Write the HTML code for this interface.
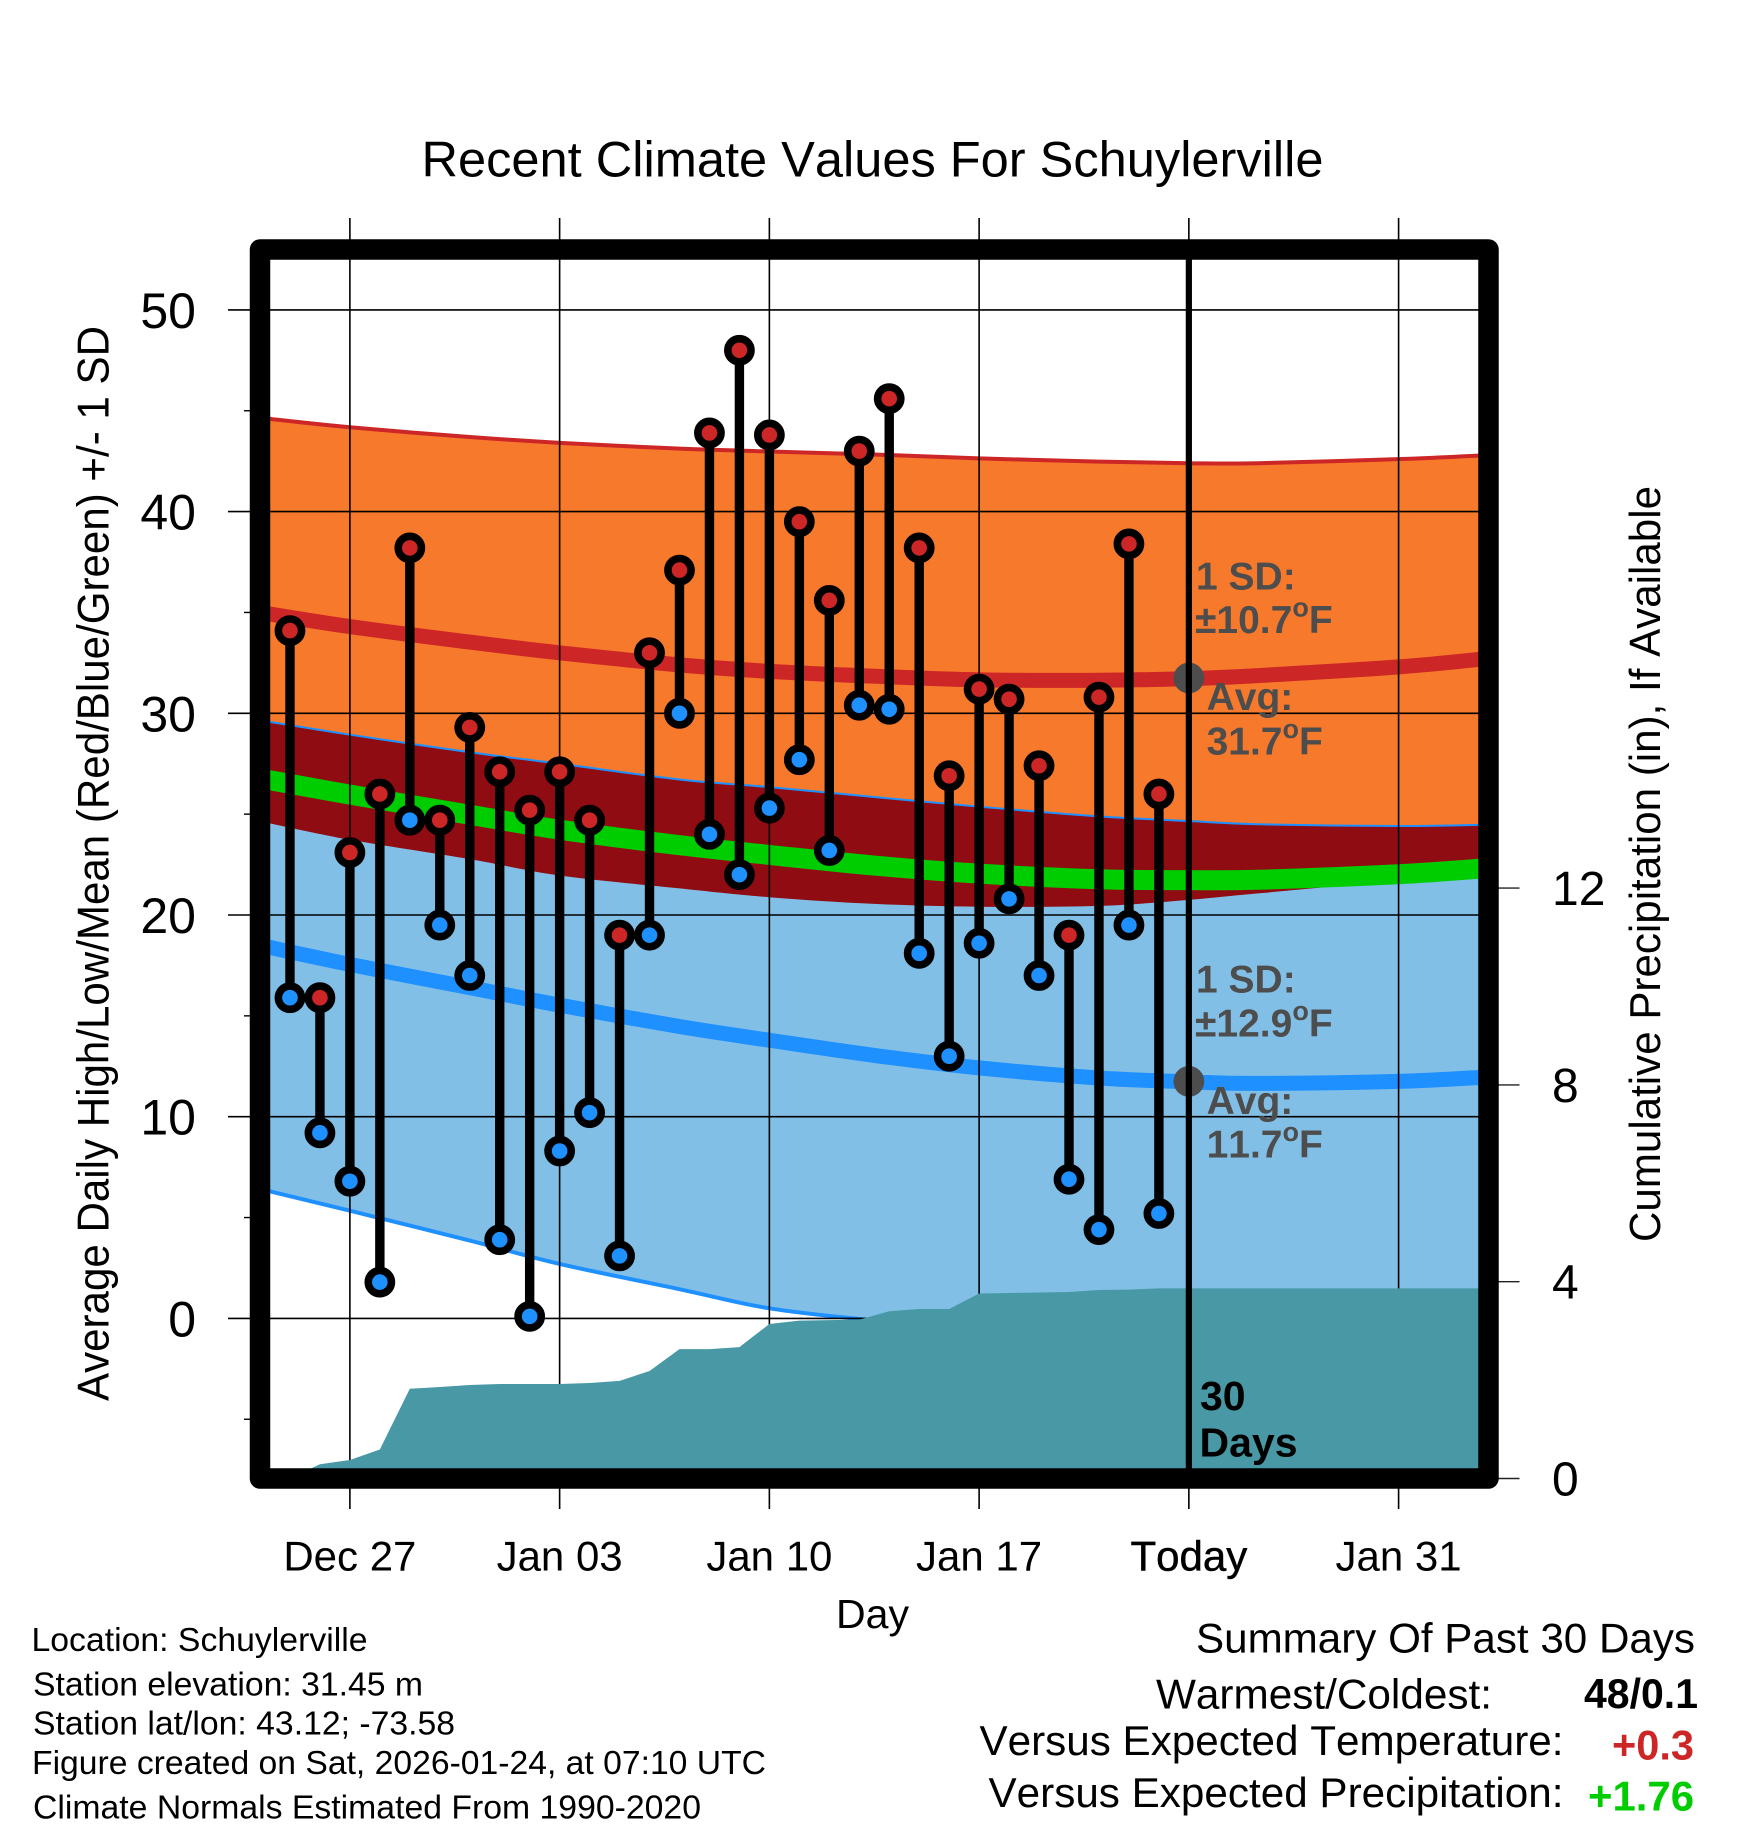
<!DOCTYPE html>
<html lang="en">
<head>
<meta charset="utf-8">
<title>Recent Climate Values For Schuylerville</title>
<style>
html,body{margin:0;padding:0;background:#fff;}
svg{display:block;}
text{font-family:"Liberation Sans",Arial,sans-serif;fill:#000;font-kerning:none;}
.b{font-weight:bold;}
.g{font-weight:bold;fill:#4d4d4d;font-size:39px;}
</style>
</head>
<body>
<svg id="chart" xmlns="http://www.w3.org/2000/svg" width="1748" height="1828" viewBox="0 0 1748 1828">
<defs><clipPath id="plot-clip"><rect x="260" y="249.5" width="1228.5" height="1229"/></clipPath></defs>
<rect x="0" y="0" width="1748" height="1828" fill="#fff"/>
<text x="421.5" y="176.5" font-size="50" textLength="902" lengthAdjust="spacingAndGlyphs">Recent Climate Values For Schuylerville</text>
<g id="bands" clip-path="url(#plot-clip)"></g>
<g id="grid"></g>
<g id="precip" clip-path="url(#plot-clip)"></g>
<g id="today" clip-path="url(#plot-clip)"></g>
<g id="marks"></g>
<rect x="260" y="249.5" width="1228.5" height="1229" fill="none" stroke="#000" stroke-width="20.5" stroke-linejoin="round"/>
<g id="labels"></g>

<text transform="translate(108.5,1401) rotate(-90)" font-size="44.5" textLength="1075" lengthAdjust="spacingAndGlyphs">Average Daily High/Low/Mean (Red/Blue/Green) +/- 1 SD</text>
<text transform="translate(1660,1242) rotate(-90)" font-size="44" textLength="756" lengthAdjust="spacingAndGlyphs">Cumulative Precipitation (in), If Available</text>
<text x="836" y="1628" font-size="41" textLength="73" lengthAdjust="spacingAndGlyphs">Day</text>

<text class="g" x="1196" y="589.3" font-size="38">1 SD:</text>
<text class="g" x="1195" y="633">±10.7<tspan font-size="27" dy="-16.5">o</tspan><tspan dy="16.5">F</tspan></text>
<text class="g" x="1206.6" y="709.8">Avg:</text>
<text class="g" x="1206.6" y="754.5">31.7<tspan font-size="27" dy="-16.5">o</tspan><tspan dy="16.5">F</tspan></text>
<text class="g" x="1196" y="992.4" font-size="38">1 SD:</text>
<text class="g" x="1195" y="1036.6">±12.9<tspan font-size="27" dy="-16.5">o</tspan><tspan dy="16.5">F</tspan></text>
<text class="g" x="1206.6" y="1113.8">Avg:</text>
<text class="g" x="1206.6" y="1157.6">11.7<tspan font-size="27" dy="-16.5">o</tspan><tspan dy="16.5">F</tspan></text>

<text class="b" x="1200" y="1410" font-size="41">30</text>
<text class="b" x="1199.5" y="1456.4" font-size="41">Days</text>

<text x="31.5" y="1651" font-size="33.5" textLength="336" lengthAdjust="spacingAndGlyphs">Location: Schuylerville</text>
<text x="33" y="1695.5" font-size="33.5" textLength="390" lengthAdjust="spacingAndGlyphs">Station elevation: 31.45 m</text>
<text x="33" y="1734.7" font-size="33.5" textLength="422" lengthAdjust="spacingAndGlyphs">Station lat/lon: 43.12; -73.58</text>
<text x="32" y="1774.2" font-size="33.5" textLength="734" lengthAdjust="spacingAndGlyphs">Figure created on Sat, 2026-01-24, at 07:10 UTC</text>
<text x="33" y="1818.3" font-size="33.5" textLength="668" lengthAdjust="spacingAndGlyphs">Climate Normals Estimated From 1990-2020</text>

<text x="1196" y="1652.5" font-size="42" textLength="499" lengthAdjust="spacingAndGlyphs">Summary Of Past 30 Days</text>
<text x="1156" y="1708.7" font-size="42" textLength="336" lengthAdjust="spacingAndGlyphs">Warmest/Coldest:</text>
<text class="b" x="1584" y="1708.2" font-size="42" textLength="114" lengthAdjust="spacingAndGlyphs">48/0.1</text>
<text x="979.5" y="1755" font-size="42" textLength="584" lengthAdjust="spacingAndGlyphs">Versus Expected Temperature:</text>
<text class="b" x="1612" y="1759.4" font-size="42" textLength="82" lengthAdjust="spacingAndGlyphs" style="fill:#cd2626">+0.3</text>
<text x="988.5" y="1806.8" font-size="42" textLength="575" lengthAdjust="spacingAndGlyphs">Versus Expected Precipitation:</text>
<text class="b" x="1588" y="1810.5" font-size="42" textLength="106" lengthAdjust="spacingAndGlyphs" style="fill:#00cd00">+1.76</text>
</svg>
<script>
// ---- Chart data ----
const xTickDays = [3, 10, 17, 24, 31, 38];
const xTickLabels = ["Dec 27", "Jan 03", "Jan 10", "Jan 17", "Today", "Jan 31"];
const yMajorTicks = [0, 10, 20, 30, 40, 50];
const yMinorTicks = [-5, 5, 15, 25, 35, 45];
const precipTicks = [0, 4, 8, 12];
const todayDay = 31;

const dailyHighs = [34.1,15.9,23.1,26.0,38.2,24.7,29.3,27.1,25.2,27.1,24.7,19.0,33.0,37.1,43.9,48.0,43.8,39.5,35.6,43.0,45.6,38.2,26.9,31.2,30.7,27.4,19.0,30.8,38.4,26.0];
const dailyLows = [15.9,9.2,6.8,1.8,24.7,19.5,17.0,3.9,0.1,8.3,10.2,3.1,19.0,30.0,24.0,22.0,25.3,27.7,23.2,30.4,30.2,18.1,13.0,18.6,20.8,17.0,6.9,4.4,19.5,5.2];
const dailyDays = [1,2,3,4,5,6,7,8,9,10,11,12,13,14,15,16,17,18,19,20,21,22,23,24,25,26,27,28,29,30];

const bandDays = [0,3,7,10,14,17,20.5,24,28,31,33.3,38,41];
const highPlusSd = [44.65,44.18,43.7,43.41,43.12,42.98,42.83,42.64,42.48,42.4,42.4,42.6,42.8];
const highMean = [35.0,34.3,33.53,33.0,32.4,32.08,31.84,31.66,31.64,31.72,31.87,32.3,32.72];
const highMinusSd = [24.65,23.73,22.77,21.96,21.32,20.88,20.55,20.41,20.45,20.75,21.07,21.7,21.98];
const lowPlusSd = [29.65,28.94,28.07,27.5,26.72,26.34,25.85,25.37,24.89,24.66,24.5,24.41,24.48];
const meanTemp = [26.77,25.97,24.97,24.23,23.46,22.98,22.45,22.05,21.77,21.73,21.75,22.02,22.33];
const lowMean = [18.5,17.55,16.4,15.53,14.47,13.79,13.04,12.42,11.92,11.73,11.65,11.75,11.97];
const lowMinusSd = [6.42,5.34,3.86,2.7,1.45,0.5,-0.1,-0.5,-1.0,-1.2,-1.2,-1.1,-0.9];

const precipDays = [1,2,3,4,5,6,7,8,9,10,11,12,13,14,15,16,17,18,19,20,21,22,23,24,25,26,27,28,29,30,41];
const precipTotals = [0,0.29,0.376,0.59,1.825,1.86,1.9,1.92,1.92,1.92,1.94,1.985,2.185,2.63,2.63,2.67,3.14,3.21,3.22,3.23,3.40,3.445,3.445,3.76,3.77,3.78,3.79,3.83,3.84,3.864,3.864];

const todayHighAvg = 31.75;
const todayLowAvg = 11.75;

// ---- Axis functions ----
function xScale(d){ return 260 + d * 29.963; }
function yScale(v){ return 1318.4 - v * 20.17; }
function pScale(p){ return 1478.5 - p * 49.2; }

const NS = "http://www.w3.org/2000/svg";
function make(tag, parent, attrs){
  const el = document.createElementNS(NS, tag);
  for (const k in attrs) el.setAttribute(k, attrs[k]);
  parent.appendChild(el);
  return el;
}
// Smooth curve through the read values (Catmull-Rom to Bezier); returns segment commands.
function curveSegments(pts){
  let s = "";
  for (let i = 0; i < pts.length - 1; i++){
    const p0 = pts[Math.max(i - 1, 0)], p1 = pts[i], p2 = pts[i + 1], p3 = pts[Math.min(i + 2, pts.length - 1)];
    const c1x = p1[0] + (p2[0] - p0[0]) / 6, c1y = p1[1] + (p2[1] - p0[1]) / 6;
    const c2x = p2[0] - (p3[0] - p1[0]) / 6, c2y = p2[1] - (p3[1] - p1[1]) / 6;
    s += " C" + c1x.toFixed(2) + "," + c1y.toFixed(2) + " " + c2x.toFixed(2) + "," + c2y.toFixed(2) + " " + p2[0].toFixed(2) + "," + p2[1].toFixed(2);
  }
  return s;
}
function toPts(days, vals){
  return days.map(function(d, i){ return [xScale(d), yScale(vals[i])]; });
}
function linePath(days, vals){
  const pts = toPts(days, vals);
  return "M" + pts[0][0].toFixed(2) + "," + pts[0][1].toFixed(2) + curveSegments(pts);
}
function areaPath(days, top, bottom){
  const a = toPts(days, top);
  const b = toPts(days, bottom).reverse();
  return "M" + a[0][0].toFixed(2) + "," + a[0][1].toFixed(2) + curveSegments(a) +
    " L" + b[0][0].toFixed(2) + "," + b[0][1].toFixed(2) + curveSegments(b) + " Z";
}

const bands = document.getElementById("bands");
const grid = document.getElementById("grid");
const precip = document.getElementById("precip");
const today = document.getElementById("today");
const marks = document.getElementById("marks");
const labels = document.getElementById("labels");

// ---- Bands ----
let el = make("path", bands, {d: areaPath(bandDays, highPlusSd, highMinusSd), fill: "#f7792b"});


el = make("path", bands, {d: areaPath(bandDays, lowPlusSd, lowMinusSd), fill: "#82bfe7"});


el = make("path", bands, {d: areaPath(bandDays, lowPlusSd, highMinusSd), fill: "#900c13"});



el = make("path", bands, {d: linePath(bandDays, highPlusSd), fill: "none", stroke: "#cd2626", "stroke-width": 4});


el = make("path", bands, {d: linePath(bandDays, lowPlusSd), fill: "none", stroke: "#1e90ff", "stroke-width": 2});


el = make("path", bands, {d: linePath(bandDays, lowMinusSd), fill: "none", stroke: "#1e90ff", "stroke-width": 4});


el = make("path", bands, {d: linePath(bandDays, highMean), fill: "none", stroke: "#cd2626", "stroke-width": 15});


el = make("path", bands, {d: linePath(bandDays, lowMean), fill: "none", stroke: "#1e90ff", "stroke-width": 15});


el = make("path", bands, {d: linePath(bandDays, meanTemp), fill: "none", stroke: "#00cd00", "stroke-width": 20});



// ---- Grid and ticks ----
xTickDays.forEach(function(d){
  const ln = make("line", grid, {x1: xScale(d), x2: xScale(d), y1: 218, y2: 1509, stroke: "#000", "stroke-width": 1.6});
  
  
});
yMajorTicks.forEach(function(v){
  const ln = make("line", grid, {x1: 228, x2: 1480, y1: yScale(v), y2: yScale(v), stroke: "#000", "stroke-width": 1.6});
  
  
});
yMinorTicks.forEach(function(v){
  const ln = make("line", grid, {x1: 244, x2: 252, y1: yScale(v), y2: yScale(v), stroke: "#000", "stroke-width": 1.4});
  
  
});
precipTicks.forEach(function(p){
  const ln = make("line", grid, {x1: 1497, x2: 1519.5, y1: pScale(p), y2: pScale(p), stroke: "#222", "stroke-width": 1.4});
  
  
});

// ---- Precipitation ----
let pPts = xScale(precipDays[0]).toFixed(2) + "," + pScale(0);
precipDays.forEach(function(d, i){ pPts += " " + xScale(d).toFixed(2) + "," + pScale(precipTotals[i]).toFixed(2); });
pPts += " " + xScale(precipDays[precipDays.length - 1]).toFixed(2) + "," + pScale(0);
el = make("polygon", precip, {points: pPts, fill: "#4899a5"});



// ---- Today markers ----
el = make("circle", today, {cx: xScale(todayDay), cy: yScale(todayHighAvg), r: 15.4, fill: "#4d4d4d"});


el = make("circle", today, {cx: xScale(todayDay), cy: yScale(todayLowAvg), r: 15.4, fill: "#4d4d4d"});


el = make("line", today, {x1: xScale(todayDay), x2: xScale(todayDay), y1: 250, y2: 1478, stroke: "#000", "stroke-width": 6.2});



// ---- Daily marks ----
dailyDays.forEach(function(d, i){
  const x = xScale(d);
  const stem = make("line", marks, {x1: x, x2: x, y1: yScale(dailyHighs[i]), y2: yScale(dailyLows[i]), stroke: "#000", "stroke-width": 9.4});
  
  
});
dailyDays.forEach(function(d, i){
  const x = xScale(d);
  const lo = make("circle", marks, {cx: x, cy: yScale(dailyLows[i]), r: 11.6, fill: "#1e90ff", stroke: "#000", "stroke-width": 7.6});
  
  
  const hi = make("circle", marks, {cx: x, cy: yScale(dailyHighs[i]), r: 11.6, fill: "#cd2626", stroke: "#000", "stroke-width": 7.6});
  
  
});

// ---- Tick labels ----
yMajorTicks.forEach(function(v){
  const t = make("text", labels, {x: 196, y: yScale(v) + 18, "font-size": 50, "text-anchor": "end"});
  t.textContent = String(v);
  
  
});
precipTicks.forEach(function(p){
  const t = make("text", labels, {x: 1552, y: pScale(p) + 17, "font-size": 48});
  t.textContent = String(p);
  
  
});
xTickDays.forEach(function(d, i){
  const t = make("text", labels, {x: xScale(d), y: 1570.7, "font-size": 42, "text-anchor": "middle"});
  t.textContent = xTickLabels[i];
  
  
  if (xTickLabels[i] === "Today") { t.setAttribute("stroke", "#000"); t.setAttribute("stroke-width", "0.5"); }
});
</script>
</body>
</html>
